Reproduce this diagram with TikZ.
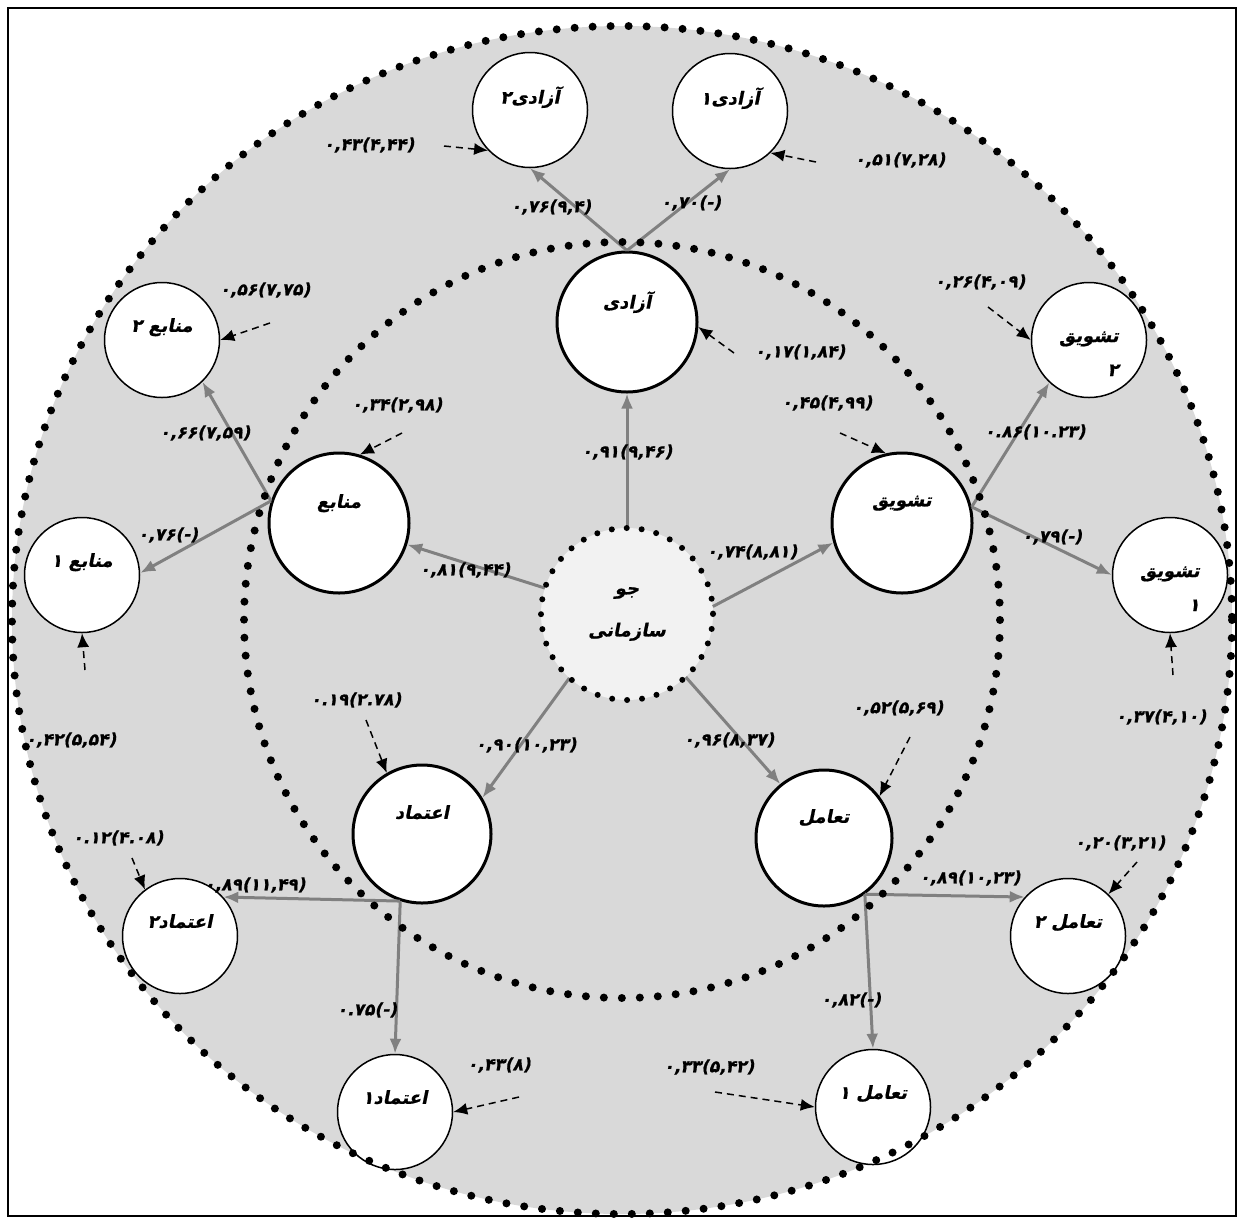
\documentclass[tikz,border=0pt]{standalone}
\usepackage{fontspec}
\usepackage{tikz}
\usetikzlibrary{arrows.meta, positioning, calc}
\TeXXeTstate=1
\newfontfamily\fa[Script=Arabic, BoldFeatures={FakeSlant=0.2, FakeBold=0.8}]{DejaVu Sans}
\newfontfamily\numfont[BoldFeatures={FakeSlant=0.2, FakeBold=0.8}]{DejaVu Sans}
\definecolor{bggray}{HTML}{D9D9D9}
\definecolor{ctrgray}{HTML}{F2F2F2}
\definecolor{arrgray}{HTML}{808080}

\begin{document}
\begin{tikzpicture}[x=1pt, y=-1pt]
	\tikzstyle{latent}=[circle, draw=black, line width=3pt, fill=white, minimum size=140pt, inner sep=0pt, text depth=44pt, font=\fa\bfseries\fontsize{18}{22}\selectfont]
	\tikzstyle{ind}=[circle, draw=black, line width=1.5pt, fill=white, minimum size=115pt, inner sep=0pt, text depth=30pt, font=\fa\bfseries\fontsize{18}{22}\selectfont]
	\tikzstyle{ctr}=[circle, fill=ctrgray, minimum size=172pt, inner sep=0pt, align=center, font=\fa\bfseries\fontsize{18}{42}\selectfont]
	\tikzstyle{load}=[draw=arrgray, line width=3pt, -{Latex[length=15pt,width=12pt]}]
	\tikzstyle{err}=[draw=black, line width=1.5pt, dash pattern=on 7pt off 5pt, -{Latex[length=14pt,width=12pt]}]
	\tikzstyle{coef}=[inner sep=0pt, font=\numfont\bfseries\fontsize{17}{20}\selectfont]
	\tikzstyle{dotline}=[line width=8pt, line cap=round, dash pattern=on 0pt off 18pt]
	
	\useasboundingbox (0,0) rectangle (1239,1219);
	\draw[line width=1.5pt] (8,8) rectangle (1236,1216);
	\fill[bggray] (622,620) ellipse [x radius=610, y radius=594];
	
	%% center and latent factors
	\node[ctr] (jo) at (627,614) {\beginR جو\endR\\\beginR سازمانی\endR};
	\node[latent] (azadi) at (627,322) {\beginR آزادی\endR};
	\node[latent] (manabe) at (339,523) {\beginR منابع\endR};
	\node[latent] (tashvigh) at (902,523) {\beginR تشویق\endR};
	\node[latent, minimum size=138pt] (etemad) at (422,834) {\beginR اعتماد\endR};
	\node[latent, minimum size=136pt] (taamol) at (824,838) {\beginR تعامل\endR};
	
	%% indicators
	\node[ind] (az2) at (530,110) {\beginR آزادی۲\endR};
	\node[ind] (az1) at (730,111) {\beginR آزادی۱\endR};
	\node[ind] (mn2) at (162,340) {\beginR منابع ۲\endR};
	\node[ind] (mn1) at (82,575) {\beginR منابع ۱\endR};
	\node[ind, align=right, text depth=0pt] (tsh2) at (1089,340) {\rule{0pt}{38pt}\beginR تشویق\endR\\[12pt]۲};
	\node[ind, align=right, text depth=0pt] (tsh1) at (1170,575) {\rule{0pt}{38pt}\beginR تشویق\endR\\[12pt]۱};
	\node[ind] (et2) at (180,936) {\beginR اعتماد۲\endR};
	\node[ind] (tm2) at (1068,936) {\beginR تعامل ۲\endR};
	\node[ind] (et1) at (395,1112) {\beginR اعتماد۱\endR};
	\node[ind] (tm1) at (873,1107) {\beginR تعامل ۱\endR};
	
	%% loadings
	\draw[load] (jo.north) -- (azadi.south);
	\draw[load] (jo) -- (manabe);
	\draw[load] (jo.5) -- (tashvigh.196);
	\draw[load] (jo.228) -- (etemad.31);
	\draw[load] (jo.313) -- (taamol.129);
	\draw[load] (azadi.north) -- (az2.south);
	\draw[load] (azadi.north) -- (az1.south);
	\draw[load] (manabe.162) -- (mn2.314);
	\draw[load] (manabe.162) -- (mn1.2);
	\draw[load] (tashvigh.13) -- (tsh2.227);
	\draw[load] (tashvigh.13) -- (tsh1.west);
	\draw[load] (etemad.252) -- (et2.42);
	\draw[load] (etemad.252) -- (et1.north);
	\draw[load] (taamol.306) -- (tm2.138);
	\draw[load] (taamol.306) -- (tm1.north);
	
	%% error terms
	\coordinate (e-az2) at (444,146);
	\coordinate (e-az1) at (816,162);
	\coordinate (e-azadi) at (734,353);
	\coordinate (e-mn2) at (270,323);
	\coordinate (e-manabe) at (402,433);
	\coordinate (e-tashvigh) at (840,433);
	\coordinate (e-tsh2) at (988,307);
	\coordinate (e-mn1) at (85,670);
	\coordinate (e-tsh1) at (1173,675);
	\coordinate (e-etemad) at (366,720);
	\coordinate (e-taamol) at (910,737);
	\coordinate (e-et2) at (132,858);
	\coordinate (e-tm2) at (1137,862);
	\coordinate (e-et1) at (519,1097);
	\coordinate (e-tm1) at (715,1092);
	\draw[err] (e-az2) -- (az2.224);
	\draw[err] (e-az1) -- (az1.314);
	\draw[err] (e-azadi) -- (azadi.356);
	\draw[err] (e-mn2) -- (mn2.east);
	\draw[err] (e-manabe) -- (manabe.73);
	\draw[err] (e-tashvigh) -- (tashvigh.103);
	\draw[err] (e-tsh2) -- (tsh2.west);
	\draw[err] (e-mn1) -- (mn1.south);
	\draw[err] (e-tsh1) -- (tsh1.south);
	\draw[err] (e-etemad) -- (etemad.120);
	\draw[err] (e-taamol) -- (taamol.37);
	\draw[err] (e-et2) -- (et2.127);
	\draw[err] (e-tm2) -- (tm2.46);
	\draw[err] (e-et1) -- (et1.east);
	\draw[err] (e-tm1) -- (tm1.west);
	
	%% coefficients
	\node[coef] (c-az2) at (369,145) {۰,۴۳(۴,۴۴)};
	\node[coef] (c-az1) at (900,160) {۰,۵۱(۷,۲۸)};
	\node[coef] (l-az2) at (551,207) {۰,۷۶(۹,۴)};
	\node[coef] (l-az1) at (691,203) {۰,۷۰(-)};
	\node[coef] (c-mn2) at (265,290) {۰,۵۶(۷,۷۵)};
	\node[coef] (c-manabe) at (397,405) {۰,۳۴(۲,۹۸)};
	\node[coef] (l-mn2) at (205,433) {۰,۶۶(۷,۵۹)};
	\node[coef] (l-mn1) at (168,535) {۰,۷۶(-)};
	\node[coef] (c-azadi) at (800,352) {۰,۱۷(۱,۸۴)};
	\node[coef] (c-tsh2) at (980,282) {۰,۲۶(۴,۰۹)};
	\node[coef] (c-tashvigh) at (827,403) {۰,۴۵(۴,۹۹)};
	\node[coef] (l-tsh2) at (1035,432) {۰.۸۶(۱۰.۲۳)};
	\node[coef] (l-tsh1) at (1052,537) {۰,۷۹(-)};
	\node[coef] (l-azadi) at (627,452) {۰,۹۱(۹,۴۶)};
	\node[coef] (l-manabe) at (465,570) {۰,۸۱(۹,۴۴)};
	\node[coef] (l-tashvigh) at (752,552) {۰,۷۴(۸,۸۱)};
	\node[coef] (c-mn1) at (71,740) {۰,۴۲(۵,۵۴)};
	\node[coef] (c-tsh1) at (1161,717) {۰,۳۷(۴,۱۰)};
	\node[coef] (c-etemad) at (356,700) {۰.۱۹(۲.۷۸)};
	\node[coef] (l-etemad) at (526,745) {۰,۹۰(۱۰,۲۳)};
	\node[coef] (l-taamol) at (729,740) {۰,۹۶(۸,۳۷)};
	\node[coef] (c-taamol) at (898,708) {۰,۵۲(۵,۶۹)};
	\node[coef] (c-et2) at (118,838) {۰.۱۲(۴.۰۸)};
	\node[coef] (l-et2) at (255,885) {۰,۸۹(۱۱,۴۹)};
	\node[coef] (l-tm2) at (970,878) {۰,۸۹(۱۰,۲۳)};
	\node[coef] (c-tm2) at (1120,843) {۰,۲۰(۳,۲۱)};
	\node[coef] (l-et1) at (367,1010) {۰.۷۵(-)};
	\node[coef] (l-tm1) at (851,1000) {۰,۸۲(-)};
	\node[coef] (c-et1) at (499,1065) {۰,۴۳(۸)};
	\node[coef] (c-tm1) at (709,1067) {۰,۳۳(۵,۴۲)};
	
	%% dotted rings
	\draw[dotline] (622,620) circle [radius=378];
	\draw[dotline] (622,620) ellipse [x radius=610, y radius=594];
	\draw[line width=6pt, line cap=round, dash pattern=on 0pt off 15pt] (jo) circle [radius=86];
\end{tikzpicture}
\end{document}
